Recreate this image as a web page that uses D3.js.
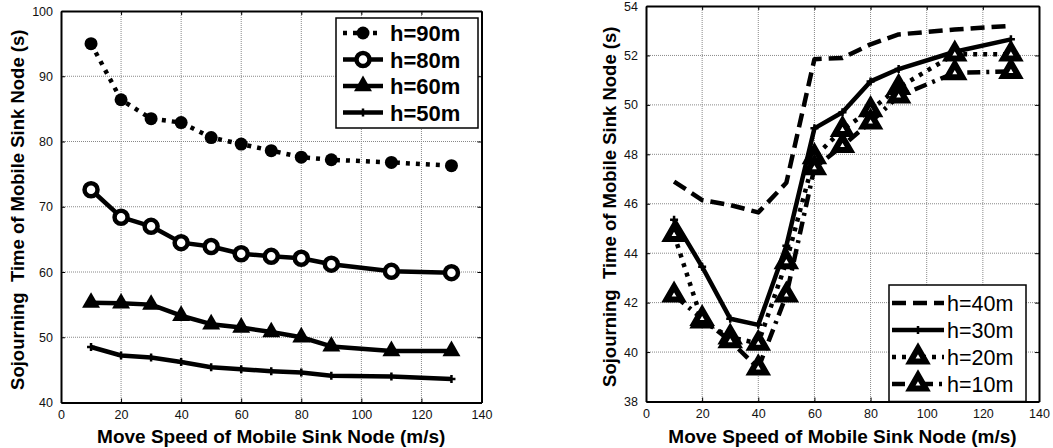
<!DOCTYPE html>
<html>
<head>
<meta charset="utf-8">
<style>
body { margin: 0; background: #fff; }
text { font-family: Arial, "Liberation Sans", sans-serif; }
</style>
</head>
<body>
<svg width="1053" height="448"></svg>
<script src="https://d3js.org/d3.v7.min.js"></script>
<script>
var svg = d3.select("svg");

// move speed (m/s)
var speeds = [10, 20, 30, 40, 50, 60, 70, 80, 90, 110, 130];

// left panel
var h90 = [95.0, 86.4, 83.5, 82.9, 80.6, 79.6, 78.6, 77.6, 77.2, 76.8, 76.3];
var h80 = [72.6, 68.4, 67.0, 64.5, 63.9, 62.8, 62.4, 62.1, 61.2, 60.1, 59.9];
var h60 = [55.3, 55.2, 55.0, 53.3, 52.0, 51.5, 50.8, 50.0, 48.6, 47.9, 47.9];
var h50 = [48.5, 47.2, 46.9, 46.2, 45.4, 45.1, 44.8, 44.6, 44.1, 44.0, 43.6];

// right panel
var h40 = [46.9, 46.15, 45.95, 45.65, 46.85, 51.85, 51.9, 52.45, 52.85, 53.05, 53.2];
var h30 = [45.35, 43.45, 41.35, 41.1, 44.3, 49.05, 49.7, 50.95, 51.45, 52.15, 52.65];
var h20 = [44.75, 41.25, 40.6, 40.35, 43.65, 47.9, 49.0, 49.8, 50.7, 52.05, 52.05];
var h10 = [42.3, 41.35, 40.45, 39.35, 42.3, 47.45, 48.35, 49.3, 50.35, 51.3, 51.35];

var xTicks = [0, 20, 40, 60, 80, 100, 120, 140];
var leftYTicks = [40, 50, 60, 70, 80, 90, 100];
var rightYTicks = [38, 40, 42, 44, 46, 48, 50, 52, 54];

var xTitle = "Move Speed of Mobile Sink Node (m/s)";
var yTitle = "Sojourning\u00a0\u00a0Time of Mobile Sink Node (s)";

function drawMarker(g, kind, cx, cy) {
  if (kind == "dot") {
    g.append("circle").attr("cx", cx).attr("cy", cy).attr("r", 6.5).attr("fill", "#000");
  } else if (kind == "ring") {
    g.append("circle").attr("cx", cx).attr("cy", cy).attr("r", 6.5)
      .attr("fill", "#fff").attr("stroke", "#000").attr("stroke-width", 4.5);
  } else if (kind == "tri") {
    g.append("path").attr("transform", "translate(" + cx + "," + cy + ")")
      .attr("d", d3.symbol(d3.symbolTriangle, 140)()).attr("fill", "#000");
  } else if (kind == "otri") {
    g.append("path").attr("transform", "translate(" + cx + "," + cy + ")")
      .attr("d", d3.symbol(d3.symbolTriangle, 100)())
      .attr("fill", "#fff").attr("stroke", "#000").attr("stroke-width", 6)
      .attr("stroke-linejoin", "miter");
  } else if (kind == "plus") {
    g.append("path").attr("d", "M" + (cx - 4) + "," + cy + "h8M" + cx + "," + (cy - 4) + "v8")
      .attr("stroke", "#000").attr("stroke-width", 2.5);
  }
}

function drawPanel(p) {
  var x = d3.scaleLinear().domain([0, 140]).range([p.left, p.right]);
  var y = d3.scaleLinear().domain(p.yDomain).range([p.bottom, p.top]);
  var g = svg.append("g");

  // grid
  g.selectAll(".gx").data(xTicks.slice(1, -1)).enter().append("line")
    .attr("x1", function(d) { return x(d); }).attr("x2", function(d) { return x(d); })
    .attr("y1", p.top).attr("y2", p.bottom)
    .attr("stroke", "#888").attr("stroke-width", 1).attr("stroke-dasharray", "1,1");
  g.selectAll(".gy").data(p.yTicks.slice(1, -1)).enter().append("line")
    .attr("y1", function(d) { return y(d); }).attr("y2", function(d) { return y(d); })
    .attr("x1", p.left).attr("x2", p.right)
    .attr("stroke", "#888").attr("stroke-width", 1).attr("stroke-dasharray", "1,1");

  // axes (inward ticks on all four sides)
  g.append("g").attr("transform", "translate(0," + p.bottom + ")")
    .call(d3.axisBottom(x).tickValues(xTicks).tickSize(-4).tickPadding(8).tickSizeOuter(0));
  g.append("g").attr("transform", "translate(0," + p.top + ")")
    .call(d3.axisTop(x).tickValues(xTicks).tickSize(-4).tickFormat("").tickSizeOuter(0));
  g.append("g").attr("transform", "translate(" + p.left + ",0)")
    .call(d3.axisLeft(y).tickValues(p.yTicks).tickSize(-4).tickPadding(8).tickSizeOuter(0));
  g.append("g").attr("transform", "translate(" + p.right + ",0)")
    .call(d3.axisRight(y).tickValues(p.yTicks).tickSize(-4).tickFormat("").tickSizeOuter(0));
  g.selectAll(".domain").attr("stroke", "#000").attr("stroke-width", 2);
  g.selectAll(".tick line").attr("stroke", "#000");
  g.selectAll(".tick text").attr("font-size", 12.5).attr("fill", "#111")
    .attr("font-family", "Arial, 'Liberation Sans', sans-serif");

  // series
  var line = d3.line().x(function(d) { return x(d[0]); }).y(function(d) { return y(d[1]); });
  p.series.forEach(function(s) {
    var pts = speeds.map(function(v, i) { return [v, s.values[i]]; });
    g.append("path").datum(pts).attr("d", line).attr("fill", "none")
      .attr("stroke", "#000").attr("stroke-width", 4.5)
      .attr("stroke-dasharray", s.dash).attr("stroke-linejoin", "round");
    if (s.marker) pts.forEach(function(d) { drawMarker(g, s.marker, x(d[0]), y(d[1])); });
  });

  // legend
  var L = p.legend;
  g.append("rect").attr("x", L.x).attr("y", L.y).attr("width", L.w).attr("height", L.h)
    .attr("fill", "#fff").attr("stroke", "#000").attr("stroke-width", 1.5);
  p.series.forEach(function(s, i) {
    var cy = L.y + L.first + i * L.step;
    g.append("line").attr("x1", L.x + L.l0).attr("x2", L.x + L.l1).attr("y1", cy).attr("y2", cy)
      .attr("stroke", "#000").attr("stroke-width", 4.5).attr("stroke-dasharray", s.dash);
    if (s.marker) drawMarker(g, s.marker, L.x + (L.l0 + L.l1) / 2, cy);
    g.append("text").attr("x", L.x + L.tx).attr("y", cy + 8)
      .attr("font-size", L.bold ? 22 : 21.5).attr("font-weight", L.bold ? "bold" : "normal")
      .text(s.name);
  });

  // titles
  g.append("text").attr("x", (p.left + p.right) / 2).attr("y", 443)
    .attr("text-anchor", "middle").attr("font-size", 19).attr("font-weight", "bold")
    .text(xTitle);
  g.append("text")
    .attr("transform", "translate(" + p.yTitleX + "," + ((p.top + p.bottom) / 2 + 3) + ") rotate(-90)")
    .attr("text-anchor", "middle").attr("font-size", 18.5).attr("font-weight", "bold")
    .text(yTitle);
}

drawPanel({
  left: 61, right: 481.5, top: 11, bottom: 402.5,
  yDomain: [40, 100], yTicks: leftYTicks, yTitleX: 24,
  series: [
    {name: "h=90m", values: h90, dash: "4,6", marker: "dot"},
    {name: "h=80m", values: h80, dash: null, marker: "ring"},
    {name: "h=60m", values: h60, dash: null, marker: "tri"},
    {name: "h=50m", values: h50, dash: null, marker: "plus"}
  ],
  legend: {x: 336, y: 18, w: 142, h: 110, first: 15, step: 26.5, l0: 7, l1: 47, tx: 54, bold: true}
});

drawPanel({
  left: 646, right: 1039, top: 6, bottom: 401.5,
  yDomain: [38, 54], yTicks: rightYTicks, yTitleX: 616,
  series: [
    {name: "h=40m", values: h40, dash: "14,7", marker: null},
    {name: "h=30m", values: h30, dash: null, marker: "plus"},
    {name: "h=20m", values: h20, dash: "4,6", marker: "otri"},
    {name: "h=10m", values: h10, dash: "13,6,3,6", marker: "otri"}
  ],
  legend: {x: 889, y: 285, w: 137, h: 116.5, first: 18, step: 27, l0: 3, l1: 55, tx: 58, bold: false}
});
</script>
</body>
</html>
